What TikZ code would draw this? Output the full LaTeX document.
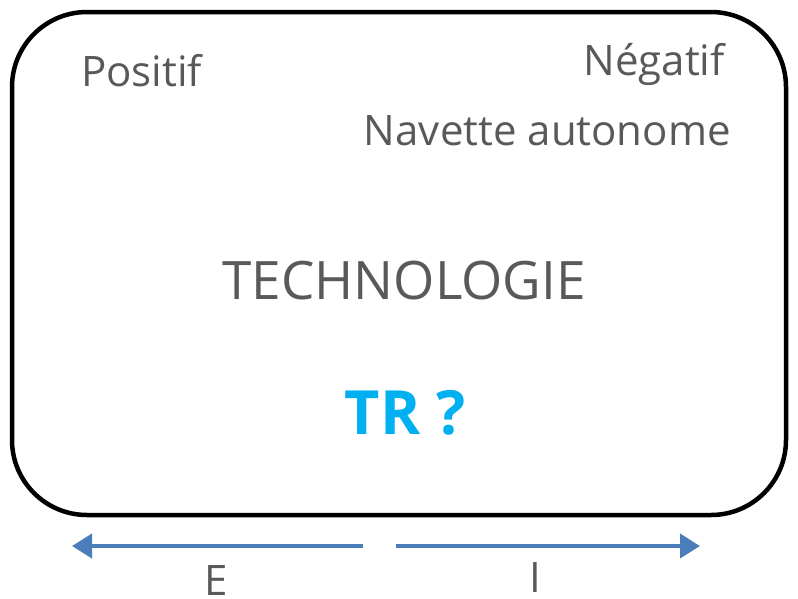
\documentclass[tikz,border=0pt]{standalone}
\usepackage{fontspec}
\setmainfont{Open Sans}
\usepackage{xcolor}
\usepackage{tikz}
\usetikzlibrary{arrows.meta}
\definecolor{txtgrey}{HTML}{595959}
\definecolor{trcyan}{HTML}{00B0F0}
\definecolor{axisblue}{HTML}{4A7EBB}

\begin{document}
\begin{tikzpicture}[x=1pt, y=-1pt, every node/.style={inner sep=0pt, text=txtgrey, font=\fontsize{42}{50}\selectfont}, axis/.style={draw=axisblue, line width=4pt, -{Triangle[length=20pt, width=24pt]}}]
\useasboundingbox (0,0) rectangle (798,598);
\draw[line width=4.5pt, rounded corners=75pt] (12,12) rectangle (786,515);
\node[anchor=base west] (pos) at (81,86) {Positif};
\node[anchor=base east] (neg) at (725,75) {Négatif};
\node[anchor=base east] (nav) at (731,145) {Navette autonome};
\node[anchor=base, font=\fontsize{53}{62}\selectfont] (tech) at (404,299) {TECHNOLOGIE};
\node[anchor=base, text=trcyan, font=\fontsize{61}{70}\selectfont\bfseries] (tr) at (405,434) {TR ?};
\coordinate (mid l) at (363,546);
\coordinate (mid r) at (396,546);
\coordinate (end l) at (72,546);
\coordinate (end r) at (700,546);
\draw[axis] (mid l) -- (end l);
\draw[axis] (mid r) -- (end r);
\node[anchor=base] (e) at (216,595) {E};
\node[anchor=base] (i) at (535,592) {I};
\end{tikzpicture}
\end{document}
